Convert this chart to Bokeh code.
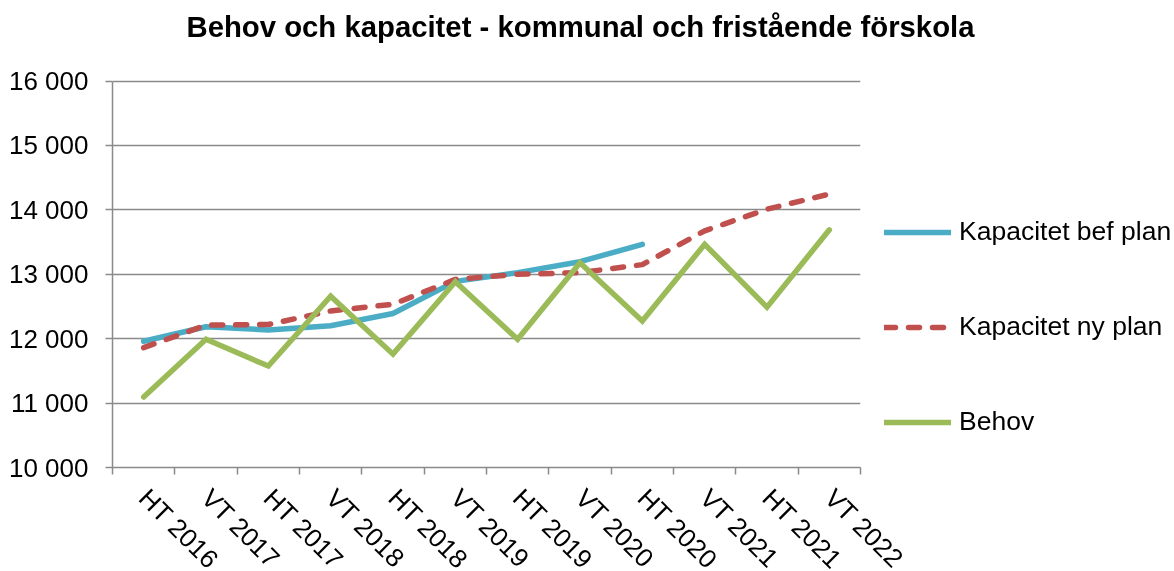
import math
from bokeh.plotting import figure
from bokeh.models import (Range1d, FixedTicker, Legend, LegendItem, Title)
from bokeh.embed import file_html
from bokeh.resources import INLINE

categories = ["HT 2016", "VT 2017", "HT 2017", "VT 2018", "HT 2018", "VT 2019",
              "HT 2019", "VT 2020", "HT 2020", "VT 2021", "HT 2021", "VT 2022"]
kapacitet_bef_plan = [11960, 12185, 12135, 12200, 12390, 12890, 13025, 13195, 13465]
kapacitet_ny_plan = [11860, 12210, 12220, 12430, 12535, 12920, 13000, 13025, 13150, 13675, 14010, 14245]
behov = [11095, 11990, 11575, 12660, 11760, 12885, 11990, 13180, 12275, 13465, 12490, 13690]
y_ticks = [10000, 11000, 12000, 13000, 14000, 15000, 16000]
y_tick_labels = ["10 000", "11 000", "12 000", "13 000", "14 000", "15 000", "16 000"]

FONT = "Liberation Sans"
GRID = "#8a8a8a"

x_all = [i + 0.5 for i in range(len(categories))]

# frame spans from y=42 to y=466.5; 16000 sits at y=80.5 -> extend range top a bit
y_top = 16000 + (80.5 - 42) / (386.0 / 6000)

p = figure(frame_width=748, frame_height=425, output_backend="svg", toolbar_location=None,
           x_range=Range1d(0, len(categories)), y_range=Range1d(10000, y_top),
           min_border_left=112, min_border_right=314, min_border_top=42,
           min_border_bottom=120)
p.styles = {"position": "fixed", "top": "0px", "left": "0px"}
p.outline_line_color = None
p.background_fill_color = "white"

p.title = Title(text="Behov och kapacitet - kommunal och fristående förskola",
                text_font=FONT, text_font_size="29.3px", text_font_style="bold",
                text_color="black", align="left", offset=74, standoff=0)

# axes
p.xaxis.ticker = FixedTicker(ticks=x_all, minor_ticks=list(range(len(categories) + 1)))
p.xaxis.major_label_overrides = {x: c for x, c in zip(x_all, categories)}
p.xaxis.major_label_orientation = -math.pi / 4
p.xaxis.major_tick_out = 0
p.xaxis.major_tick_in = 0
p.xaxis.minor_tick_out = 7
p.xaxis.minor_tick_in = 0
p.xaxis.minor_tick_line_color = GRID
p.xaxis.minor_tick_line_width = 1.5
p.xaxis.major_label_standoff = 19

p.yaxis.ticker = FixedTicker(ticks=y_ticks, minor_ticks=[])
p.yaxis.major_label_overrides = {v: l for v, l in zip(y_ticks, y_tick_labels)}
p.yaxis.major_tick_out = 7
p.yaxis.major_tick_in = 0
p.yaxis.major_label_standoff = 17
p.yaxis.bounds = (10000, 16000)

for ax in (p.xaxis, p.yaxis):
    ax.axis_line_color = GRID
    ax.axis_line_width = 1.5
    ax.major_tick_line_color = GRID
    ax.major_tick_line_width = 1.5
    ax.major_label_text_font = FONT
    ax.major_label_text_font_size = "26px"
    ax.major_label_text_color = "black"

p.xgrid.grid_line_color = None
p.ygrid.grid_line_color = GRID
p.ygrid.grid_line_width = 1.5

r1 = p.line(x_all[:len(kapacitet_bef_plan)], kapacitet_bef_plan, line_color="#4BACC6",
            line_width=5.5, line_join="round", line_cap="round")
r2 = p.line(x_all, kapacitet_ny_plan, line_color="#C0504D", line_width=5.5,
            line_dash="11 13", line_join="round", line_cap="round")
r3 = p.line(x_all, behov, line_color="#9BBB59", line_width=5.5,
            line_join="miter", line_cap="round")

legend = Legend(items=[LegendItem(label="Kapacitet bef plan", renderers=[r1]),
                       LegendItem(label="Kapacitet ny plan", renderers=[r2]),
                       LegendItem(label="Behov", renderers=[r3])],
                location=(24, 30), orientation="vertical",
                glyph_width=67, glyph_height=30, label_height=30,
                label_standoff=8, spacing=64, padding=0, margin=0,
                border_line_color=None, background_fill_alpha=0,
                label_text_font=FONT, label_text_font_size="26.5px",
                label_text_color="black")
p.add_layout(legend, "right")

open("out.html", "w").write(file_html(p, INLINE))
